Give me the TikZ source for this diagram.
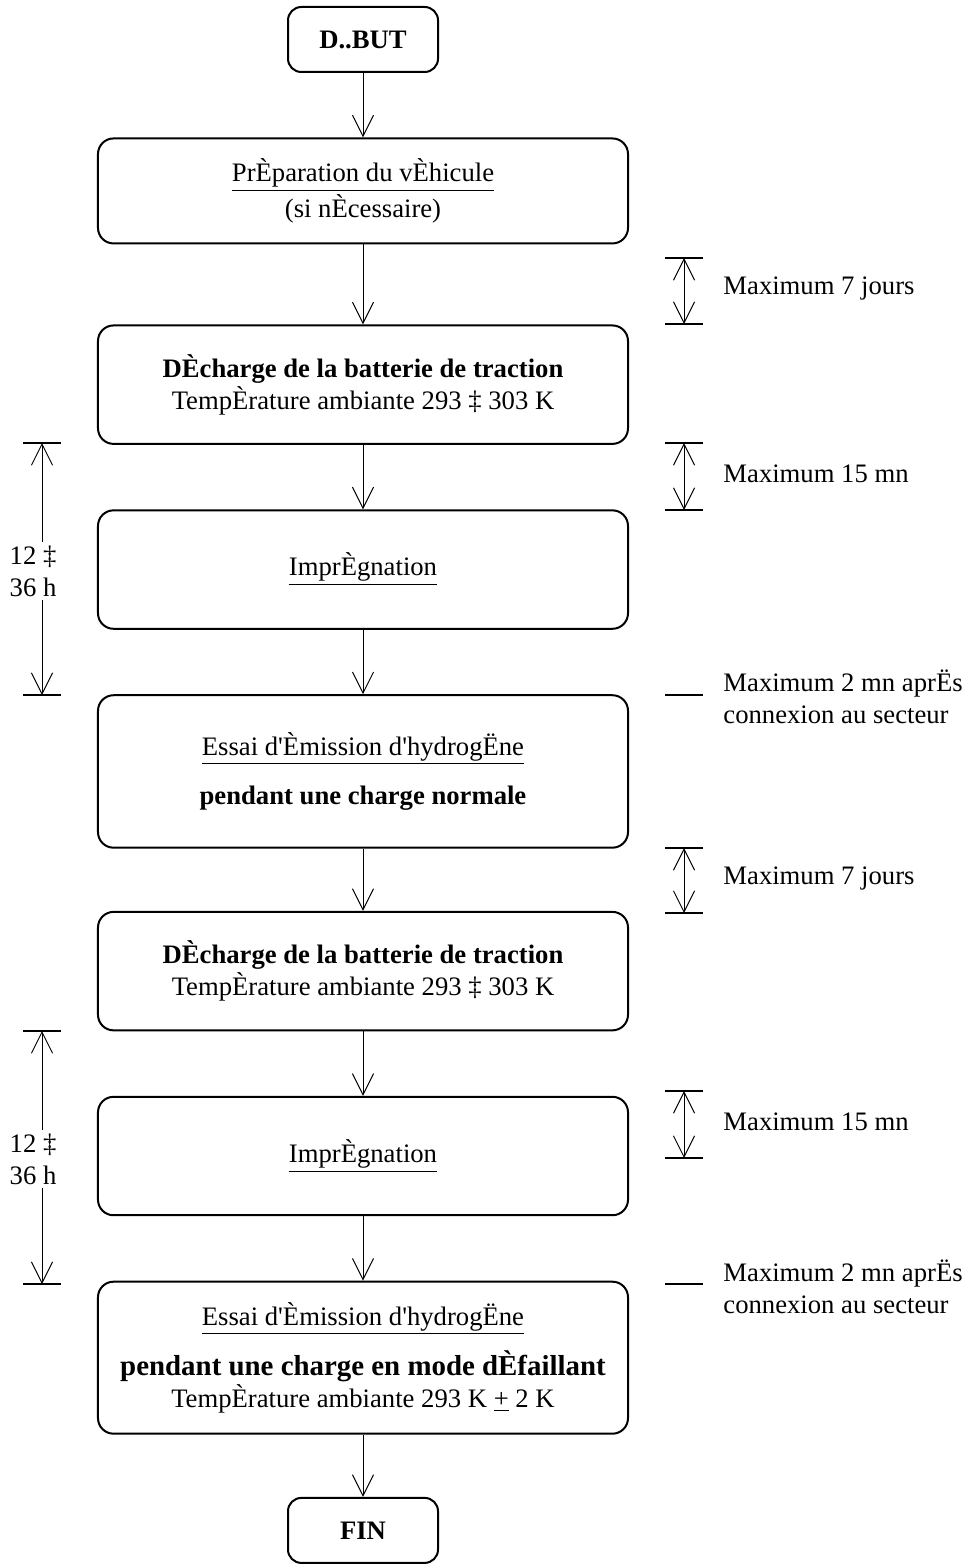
\documentclass[tikz,border=0pt]{standalone}
\usepackage{fontspec}
\setmainfont{Liberation Serif}
\usetikzlibrary{positioning,arrows.meta}
\newcommand{\q}{\textquotesingle}

\begin{document}
\begin{tikzpicture}[
    x=0.45pt, y=-0.45pt,
    node distance=29pt,
    every node/.style={font=\fontsize{12}{14.4}\selectfont},
    startstop/.style={draw, rectangle, rounded corners=6pt, line width=0.9pt,
      minimum width=67.5pt, minimum height=29.25pt, text centered,
      font=\fontsize{12}{14.4}\selectfont\bfseries},
    process/.style={draw, rectangle, rounded corners=7pt, line width=0.9pt,
      minimum width=238.5pt, minimum height=53.3pt, align=center},
    arrow/.style={line width=0.45pt, -{Straight Barb[length=9.5pt,width=9.5pt]}},
    dimarrow/.style={line width=0.45pt,
      {Straight Barb[length=9.5pt,width=9.5pt]}-{Straight Barb[length=9.5pt,width=9.5pt]}},
    dimtick/.style={line width=0.9pt},
    note/.style={anchor=west, align=left, inner sep=0pt},
    span/.style={align=center, inner sep=1.5pt}
]
\useasboundingbox (0,0) rectangle (964,1567);

\node (start)  [startstop] at (363,39.5) {D..BUT};
\node (prep)   [process, minimum height=47.25pt, below=of start]
  {\underline{PrÈparation du vÈhicule}\\(si nÈcessaire)};
\node (dech1)  [process, below=36pt of prep]
  {\textbf{DÈcharge de la batterie de traction}\\TempÈrature ambiante 293 ‡ 303 K};
\node (impr1)  [process, below=of dech1] {\underline{ImprÈgnation}};
\node (essai1) [process, minimum height=68.6pt, below=of impr1]
  {\underline{Essai d\q Èmission d\q hydrogËne}\\[8pt]\textbf{pendant une charge normale}};
\node (dech2)  [process, below=28pt of essai1]
  {\textbf{DÈcharge de la batterie de traction}\\TempÈrature ambiante 293 ‡ 303 K};
\node (impr2)  [process, below=of dech2] {\underline{ImprÈgnation}};
\node (essai2) [process, minimum height=68.4pt, below=of impr2]
  {\underline{Essai d\q Èmission d\q hydrogËne}\\[6pt]{\fontsize{13}{15}\selectfont\bfseries pendant une charge en mode dÈfaillant}\\TempÈrature ambiante 293 K \underline{+} 2 K};
\node (stop)   [startstop, below=28pt of essai2] {FIN};

\draw [arrow] (start)  -- (prep);
\draw [arrow] (prep)   -- (dech1);
\draw [arrow] (dech1)  -- (impr1);
\draw [arrow] (impr1)  -- (essai1);
\draw [arrow] (essai1) -- (dech2);
\draw [arrow] (dech2)  -- (impr2);
\draw [arrow] (impr2)  -- (essai2);
\draw [arrow] (essai2) -- (stop);

% durees a droite
\coordinate (r1a) at (684,258);  \coordinate (r1b) at (684,324);
\coordinate (r2a) at (684,443);  \coordinate (r2b) at (684,510);
\coordinate (r3)  at (684,695);
\coordinate (r4a) at (684,848);  \coordinate (r4b) at (684,913);
\coordinate (r5a) at (684,1091); \coordinate (r5b) at (684,1158);
\coordinate (r6)  at (684,1284);
\foreach \c in {r1a,r1b,r2a,r2b,r3,r4a,r4b,r5a,r5b,r6}
  \draw [dimtick] ([xshift=-8.5pt]\c) -- ([xshift=8.5pt]\c);
\draw [dimarrow] (r1a) -- (r1b);
\draw [dimarrow] (r2a) -- (r2b);
\draw [dimarrow] (r4a) -- (r4b);
\draw [dimarrow] (r5a) -- (r5b);

\node (max1) [note] at (723,289)  {Maximum 7 jours};
\node (max2) [note] at (723,474)  {Maximum 15 mn};
\node (max3) [note] at (723,697)  {Maximum 2 mn aprËs\\connexion au secteur};
\node (max4) [note] at (723,878)  {Maximum 7 jours};
\node (max5) [note] at (723,1122) {Maximum 15 mn};
\node (max6) [note] at (723,1287) {Maximum 2 mn aprËs\\connexion au secteur};

% durees a gauche
\coordinate (l1a) at (42,443);  \coordinate (l1b) at (42,695);
\coordinate (l2a) at (42,1031); \coordinate (l2b) at (42,1284);
\foreach \c in {l1a,l1b,l2a,l2b}
  \draw [dimtick] ([xshift=-8.5pt]\c) -- ([xshift=8.5pt]\c);
\node (h1) [span] at (33,571)  {12 ‡\\36 h};
\node (h2) [span] at (33,1159) {12 ‡\\36 h};
\draw [arrow] (h1.north -| l1a) -- (l1a);
\draw [arrow] (h1.south -| l1b) -- (l1b);
\draw [arrow] (h2.north -| l2a) -- (l2a);
\draw [arrow] (h2.south -| l2b) -- (l2b);
\end{tikzpicture}
\end{document}
